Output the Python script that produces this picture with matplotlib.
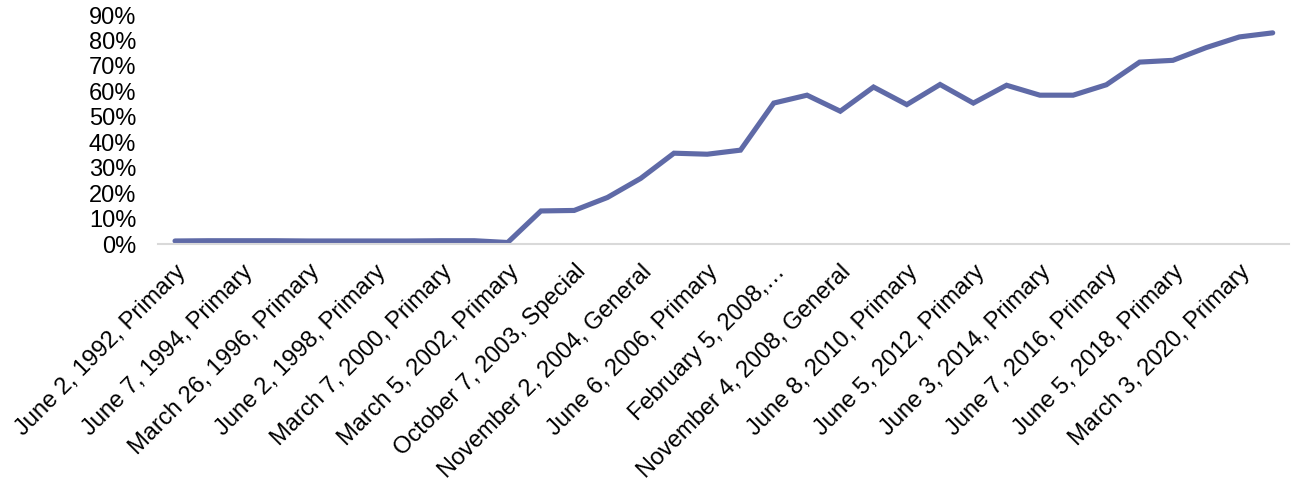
import matplotlib.pyplot as plt
from matplotlib.ticker import PercentFormatter

plt.rcParams['font.family'] = ['Liberation Sans', 'DejaVu Sans']

# election dates (every other one gets a tick label, as in the original)
elections = [
    "June 2, 1992, Primary", "November 3, 1992, General",
    "June 7, 1994, Primary", "November 8, 1994, General",
    "March 26, 1996, Primary", "November 5, 1996, General",
    "June 2, 1998, Primary", "November 3, 1998, General",
    "March 7, 2000, Primary", "November 7, 2000, General",
    "March 5, 2002, Primary", "November 5, 2002, General",
    "October 7, 2003, Special", "March 2, 2004, Primary",
    "November 2, 2004, General", "November 8, 2005, Special",
    "June 6, 2006, Primary", "November 7, 2006, General",
    "February 5, 2008,\u2026", "June 3, 2008, Primary",
    "November 4, 2008, General", "May 19, 2009, Special",
    "June 8, 2010, Primary", "November 2, 2010, General",
    "June 5, 2012, Primary", "November 6, 2012, General",
    "June 3, 2014, Primary", "November 4, 2014, General",
    "June 7, 2016, Primary", "November 8, 2016, General",
    "June 5, 2018, Primary", "November 6, 2018, General",
    "March 3, 2020, Primary", "November 3, 2020, General",
]

share = [
    1.2, 1.3, 1.3, 1.3, 1.2, 1.2, 1.2, 1.2, 1.3, 1.3,
    0.6, 13.0, 13.2, 18.3, 25.8, 35.7, 35.3, 36.9, 55.4, 58.5,
    52.2, 61.7, 54.8, 62.7, 55.4, 62.4, 58.5, 58.5, 62.6, 71.5,
    72.2, 77.2, 81.4, 83.0,
]

fig = plt.figure(figsize=(12.91, 4.93), dpi=100)
ax = fig.add_axes([0.1227, 0.505, 0.876, 0.4645])

x = list(range(len(share)))
ax.plot(x, share, color='#5F6AA7', linewidth=3.7, solid_capstyle='round',
        solid_joinstyle='miter')

ax.set_xlim(-0.5, len(share) - 0.5)
ax.set_ylim(0, 90)
ax.set_yticks(range(0, 91, 10))
ax.yaxis.set_major_formatter(PercentFormatter(decimals=0))

ax.set_xticks(x[::2])
ax.set_xticklabels(elections[::2], rotation=45, ha='right',
                   rotation_mode='anchor')

for s in ['top', 'right', 'left']:
    ax.spines[s].set_visible(False)
ax.spines['bottom'].set_color('#D9D9D9')
ax.spines['bottom'].set_linewidth(1.5)

ax.tick_params(axis='both', length=0, labelsize=17, colors='black')
ax.tick_params(axis='x', pad=12)
ax.tick_params(axis='y', pad=16)

fig.savefig('out.png', dpi=100)
